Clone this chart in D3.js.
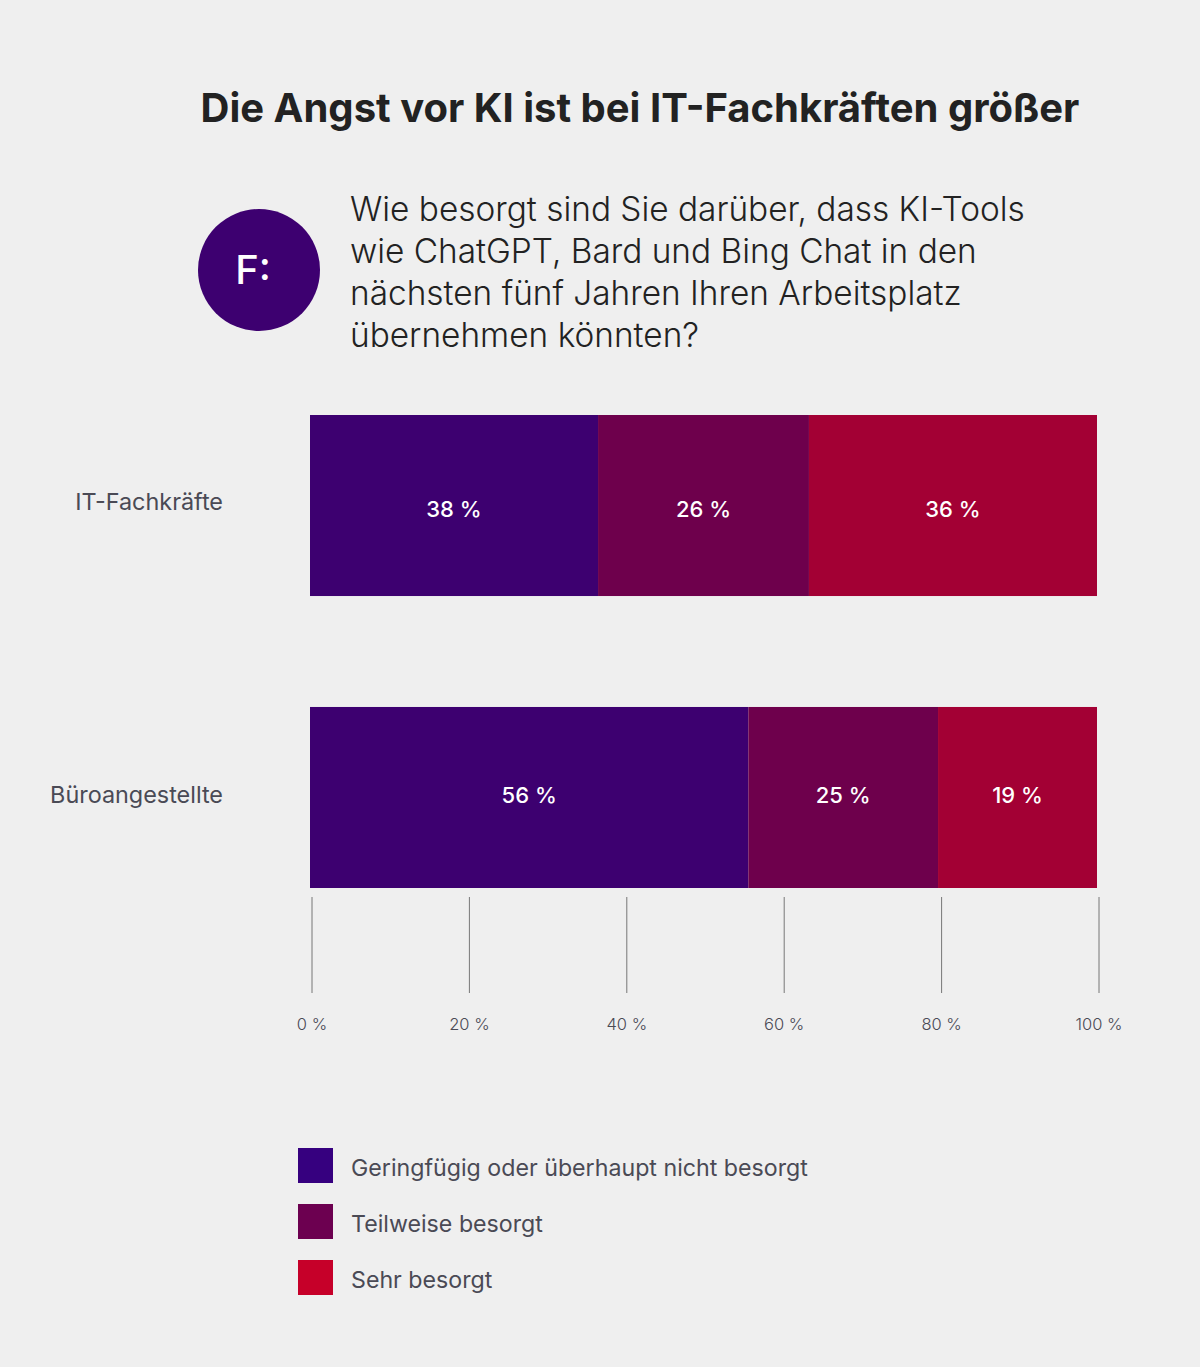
<!DOCTYPE html>
<html>
<head>
<meta charset="utf-8">
<script src="https://cdn.jsdelivr.net/npm/d3@7"></script>
<style>
  html,body{margin:0;padding:0;background:#efefef;}
  svg{display:block;font-family:Inter,"Noto Sans",sans-serif;}
</style>
</head>
<body>
<svg id="chart" width="1200" height="1367"></svg>
<script>
// data
const groups = ["IT-Fachkräfte", "Büroangestellte"];
const seriesNames = ["Geringfügig oder überhaupt nicht besorgt", "Teilweise besorgt", "Sehr besorgt"];
const itShares = [36.6, 26.8, 36.6];
const bueroShares = [55.7, 24.1, 20.2];
const itLabels = ["38 %", "26 %", "36 %"];
const bueroLabels = ["56 %", "25 %", "19 %"];
const axisTicks = [0, 20, 40, 60, 80, 100];
const questionLines = [
  "Wie besorgt sind Sie darüber, dass KI-Tools",
  "wie ChatGPT, Bard und Bing Chat in den",
  "nächsten fünf Jahren Ihren Arbeitsplatz",
  "übernehmen könnten?"
];

const barColors = ["#3d0070", "#6e004c", "#a30034"];
const legendColors = ["#36007f", "#6c0050", "#c60029"];

const svg = d3.select("#chart");

// title
svg.append("text")
  .attr("x", 640).attr("y", 122)
  .attr("text-anchor", "middle")
  .style("font-size", "40px").style("font-weight", 700)
  .style("fill", "#222")
  .text("Die Angst vor KI ist bei IT-Fachkräften größer");

// question badge
svg.append("circle").attr("cx", 259).attr("cy", 270).attr("r", 61).attr("fill", "#3d0070");
svg.append("text")
  .attr("x", 253).attr("y", 284)
  .attr("text-anchor", "middle")
  .style("font-size", "40px").style("font-weight", 500)
  .style("fill", "#fff")
  .text("F:");

svg.append("g").selectAll("text")
  .data(questionLines)
  .join("text")
  .attr("x", 350)
  .attr("y", (d, i) => 221 + i * 42)
  .style("font-size", "33.4px").style("font-weight", 300)
  .style("fill", "#222")
  .text(d => d);

// scales
const x = d3.scaleLinear().domain([0, 100]).range([310, 1097]);
const y = d3.scaleBand().domain(groups).range([415, 888]).paddingInner(0.38);

const rows = [
  {name: groups[0], shares: itShares, labels: itLabels},
  {name: groups[1], shares: bueroShares, labels: bueroLabels}
];

rows.forEach(r => {
  let acc = 0;
  r.segs = r.shares.map((v, i) => {
    const s = {x0: acc, x1: acc + v, label: r.labels[i], color: barColors[i]};
    acc += v;
    return s;
  });
});

const rowG = svg.append("g").selectAll("g.row")
  .data(rows)
  .join("g")
  .attr("class", "row")
  .attr("transform", d => `translate(0,${y(d.name)})`);

rowG.selectAll("rect")
  .data(d => d.segs)
  .join("rect")
  .attr("x", d => x(d.x0))
  .attr("width", d => x(d.x1) - x(d.x0))
  .attr("y", 0)
  .attr("height", y.bandwidth())
  .attr("fill", d => d.color);

rowG.each(function(r, ri) {
  d3.select(this).selectAll("text.val")
    .data(r.segs)
    .join("text")
    .attr("class", "val")
    .attr("x", d => (x(d.x0) + x(d.x1)) / 2)
    .attr("y", y.bandwidth() / 2 + (ri === 0 ? 11 : 6))
    .attr("text-anchor", "middle")
    .style("font-size", "22px").style("font-weight", 500)
    .style("fill", "#fff")
    .text(d => d.label);
});

rowG.append("text")
  .attr("x", 223)
  .attr("y", (d, i) => y.bandwidth() / 2 + (i === 0 ? 4 : 6))
  .attr("text-anchor", "end")
  .style("font-size", "23.4px")
  .style("fill", "#4a4a55")
  .text(d => d.name);

// axis
const axisG = svg.append("g").attr("transform", "translate(0,897)");
axisG.selectAll("line")
  .data(axisTicks)
  .join("line")
  .attr("x1", d => x(d) + 2).attr("x2", d => x(d) + 2)
  .attr("y1", 0).attr("y2", 96)
  .attr("stroke", "#777").attr("stroke-width", 1);
axisG.selectAll("text")
  .data(axisTicks)
  .join("text")
  .attr("x", d => x(d) + 2)
  .attr("y", 133)
  .attr("text-anchor", "middle")
  .style("font-size", "16.5px").style("font-weight", 300)
  .style("fill", "#4a4a55")
  .text(d => d + " %");

// legend
const leg = svg.append("g").selectAll("g")
  .data(seriesNames)
  .join("g")
  .attr("transform", (d, i) => `translate(298,${1148 + i * 56})`);
leg.append("rect").attr("width", 35).attr("height", 35).attr("fill", (d, i) => legendColors[i]);
leg.append("text")
  .attr("x", 53).attr("y", 28)
  .style("font-size", "23.2px")
  .style("fill", "#4a4a55")
  .text(d => d);
</script>
</body>
</html>
